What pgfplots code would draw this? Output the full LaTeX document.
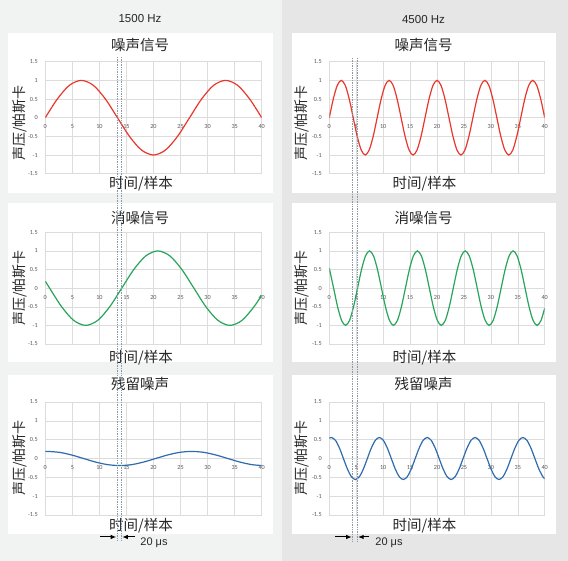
\documentclass[border=0pt]{standalone}
\usepackage{pgfplots}
\pgfplotsset{compat=1.18}
\usetikzlibrary{arrows.meta}
\usepackage{fontspec}
\setmainfont{Liberation Sans}
\newfontfamily\cjk{Noto Sans CJK SC}
\newfontfamily\calibri{Carlito}

\definecolor{bgl}{HTML}{F1F2F2}
\definecolor{bgr}{HTML}{E6E6E6}
\definecolor{gridc}{HTML}{DCDCDC}
\definecolor{tickc}{HTML}{595959}
\definecolor{noise}{HTML}{E8382D}
\definecolor{anti}{HTML}{27A55A}
\definecolor{resid}{HTML}{2F6CAE}
\definecolor{dotc}{HTML}{8C9AA6}
\definecolor{txt}{HTML}{262626}

\newcommand\ticks{\calibri\fontsize{6.2}{7}\selectfont}
\newcommand\headfont{\cjk\fontsize{14.5}{15}\selectfont}
\newcommand\ylab{\cjk\fontsize{14}{14}\selectfont}

\pgfplotsset{
  panel/.style={
    scale only axis, anchor=south west,
    xmin=0, xmax=40, ymin=-1.5, ymax=1.5,
    axis x line=middle, axis y line=left,
    axis line style={-, draw=none},
    hide obscured x ticks=false, hide obscured y ticks=false,
    xtick={0,5,10,15,20,25,30,35,40},
    ytick={-1.5,-1,-0.5,0,0.5,1,1.5},
    grid=major, major grid style={draw=gridc, line width=0.5pt},
    major tick length=0pt,
    tick label style={font=\ticks, text=tickc},
    /pgf/number format/assume math mode=true,
    xticklabel style={yshift=-3.5pt},
    yticklabel style={xshift=-4pt},
  },
  curve/.style={smooth, line width=1.2pt, no marks},
}

\begin{document}
\begin{tikzpicture}[x=1pt, y=1pt]
\useasboundingbox (0,0) rectangle (568,561);
% column backgrounds and cards
\fill[bgl] (0,0) rectangle (281.7,561);
\fill[bgr] (281.7,0) rectangle (568,561);
\foreach \x in {8.3, 291.7} {
  \fill[white] (\x,368.3) rectangle (\x+264.2,528);
  \fill[white] (\x,199) rectangle (\x+264.2,357.7);
  \fill[white] (\x,27) rectangle (\x+264.2,186);
}

%% 1500 Hz
\begin{axis}[panel, at={(45.3pt,387.3pt)}, width=216.4pt, height=112pt]
\addplot[curve, noise] coordinates {(0,0) (2.222,0.5) (4.444,0.866) (6.667,1) (8.889,0.866) (11.111,0.5) (13.333,0) (15.556,-0.5) (17.778,-0.866) (20,-1) (22.222,-0.866) (24.444,-0.5) (26.667,0) (28.889,0.5) (31.111,0.866) (33.333,1) (35.556,0.866) (37.778,0.5) (40,0)};
\end{axis}
\begin{axis}[panel, at={(45.3pt,217pt)}, width=216.4pt, height=111.7pt]
\addplot[curve, anti] coordinates {(0,0.187) (0.8,0) (3.022,-0.5) (5.244,-0.866) (7.467,-1) (9.689,-0.866) (11.911,-0.5) (14.133,0) (16.356,0.5) (18.578,0.866) (20.8,1) (23.022,0.866) (25.244,0.5) (27.467,0) (29.689,-0.5) (31.911,-0.866) (34.133,-1) (36.356,-0.866) (38.578,-0.5) (40,-0.187)};
\end{axis}
\begin{axis}[panel, at={(45.3pt,46pt)}, width=216.4pt, height=113pt]
\addplot[curve, resid] coordinates {(0,0.187) (0.4,0.188) (2.622,0.163) (4.844,0.094) (7.067,0) (9.289,-0.094) (11.511,-0.163) (13.733,-0.188) (15.956,-0.163) (18.178,-0.094) (20.4,0) (22.622,0.094) (24.844,0.163) (27.067,0.188) (29.289,0.163) (31.511,0.094) (33.733,0) (35.956,-0.094) (38.178,-0.163) (40,-0.187)};
\end{axis}

%% 4500 Hz
\begin{axis}[panel, at={(329.3pt,387.3pt)}, width=215.4pt, height=112pt]
\addplot[curve, noise] coordinates {(0,0) (0.741,0.5) (1.481,0.866) (2.222,1) (2.963,0.866) (3.704,0.5) (4.444,0) (5.185,-0.5) (5.926,-0.866) (6.667,-1) (7.407,-0.866) (8.148,-0.5) (8.889,0) (9.630,0.5) (10.370,0.866) (11.111,1) (11.852,0.866) (12.593,0.5) (13.333,0) (14.074,-0.5) (14.815,-0.866) (15.556,-1) (16.296,-0.866) (17.037,-0.5) (17.778,0) (18.519,0.5) (19.259,0.866) (20,1) (20.741,0.866) (21.481,0.5) (22.222,0) (22.963,-0.5) (23.704,-0.866) (24.444,-1) (25.185,-0.866) (25.926,-0.5) (26.667,0) (27.407,0.5) (28.148,0.866) (28.889,1) (29.630,0.866) (30.370,0.5) (31.111,0) (31.852,-0.5) (32.593,-0.866) (33.333,-1) (34.074,-0.866) (34.815,-0.5) (35.556,0) (36.296,0.5) (37.037,0.866) (37.778,1) (38.519,0.866) (39.259,0.5) (40,0)};
\end{axis}
\begin{axis}[panel, at={(329.3pt,217pt)}, width=215.4pt, height=111.7pt]
\addplot[curve, anti] coordinates {(0,0.536) (0.8,0) (1.541,-0.5) (2.281,-0.866) (3.022,-1) (3.763,-0.866) (4.504,-0.5) (5.244,0) (5.985,0.5) (6.726,0.866) (7.467,1) (8.207,0.866) (8.948,0.5) (9.689,0) (10.430,-0.5) (11.170,-0.866) (11.911,-1) (12.652,-0.866) (13.393,-0.5) (14.133,0) (14.874,0.5) (15.615,0.866) (16.356,1) (17.096,0.866) (17.837,0.5) (18.578,0) (19.319,-0.5) (20.059,-0.866) (20.8,-1) (21.541,-0.866) (22.281,-0.5) (23.022,0) (23.763,0.5) (24.504,0.866) (25.244,1) (25.985,0.866) (26.726,0.5) (27.467,0) (28.207,-0.5) (28.948,-0.866) (29.689,-1) (30.430,-0.866) (31.170,-0.5) (31.911,0) (32.652,0.5) (33.393,0.866) (34.133,1) (34.874,0.866) (35.615,0.5) (36.356,0) (37.096,-0.5) (37.837,-0.866) (38.578,-1) (39.319,-0.866) (40,-0.536)};
\end{axis}
\begin{axis}[panel, at={(329.3pt,46pt)}, width=215.4pt, height=113pt]
\addplot[curve, resid] coordinates {(0,0.536) (0.4,0.558) (1.141,0.483) (1.881,0.279) (2.622,0) (3.363,-0.279) (4.104,-0.483) (4.844,-0.558) (5.585,-0.483) (6.326,-0.279) (7.067,0) (7.807,0.279) (8.548,0.483) (9.289,0.558) (10.030,0.483) (10.770,0.279) (11.511,0) (12.252,-0.279) (12.993,-0.483) (13.733,-0.558) (14.474,-0.483) (15.215,-0.279) (15.956,0) (16.696,0.279) (17.437,0.483) (18.178,0.558) (18.919,0.483) (19.659,0.279) (20.4,0) (21.141,-0.279) (21.881,-0.483) (22.622,-0.558) (23.363,-0.483) (24.104,-0.279) (24.844,0) (25.585,0.279) (26.326,0.483) (27.067,0.558) (27.807,0.483) (28.548,0.279) (29.289,0) (30.030,-0.279) (30.770,-0.483) (31.511,-0.558) (32.252,-0.483) (32.993,-0.279) (33.733,0) (34.474,0.279) (35.215,0.483) (35.956,0.558) (36.696,0.483) (37.437,0.279) (38.178,0) (38.919,-0.279) (39.659,-0.483) (40,-0.536)};
\end{axis}

% headings and labels
\node[text=txt, font=\fontsize{11.5}{12}\selectfont] at (140,542) {1500 Hz};
\node[text=txt, font=\fontsize{11.5}{12}\selectfont] at (423.5,541) {4500 Hz};
\foreach \cx/\lx in {140/19.5, 423.5/302.3} {
  \node[text=txt, font=\headfont] at (\cx,516) {噪声信号};
  \node[text=txt, font=\headfont] at (\cx,343) {消噪信号};
  \node[text=txt, font=\headfont] at (\cx,176.5) {残留噪声};
  \node[text=txt, font=\headfont] at (\cx+1,377.7) {时间/样本};
  \node[text=txt, font=\headfont] at (\cx+1,203.8) {时间/样本};
  \node[text=txt, font=\headfont] at (\cx+1,35.3) {时间/样本};
  \node[text=txt, font=\ylab, rotate=90] at (\lx,438) {声压/帕斯卡};
  \node[text=txt, font=\ylab, rotate=90] at (\lx,273) {声压/帕斯卡};
  \node[text=txt, font=\ylab, rotate=90] at (\lx,103) {声压/帕斯卡};
}

% 20 us delay markers
\foreach \x in {117, 121.5} \draw[dotc, densely dotted, line width=0.7pt] (\x,504) -- (\x,20);
\foreach \x in {352.5, 357.3} \draw[dotc, densely dotted, line width=0.7pt] (\x,503) -- (\x,20);
\tikzset{dly/.style={line width=1pt, -{Latex[length=5.5pt, width=4.5pt]}}}
\draw[dly] (100,24) -- (116.2,24);
\draw[dly] (135,24) -- (122.3,24);
\draw[dly] (335,24) -- (351.7,24);
\draw[dly] (369,24) -- (358.1,24);
\node[text=txt, font=\fontsize{11}{12}\selectfont] at (154,18) {20 μs};
\node[text=txt, font=\fontsize{11}{12}\selectfont] at (389,18) {20 μs};
\end{tikzpicture}
\end{document}
